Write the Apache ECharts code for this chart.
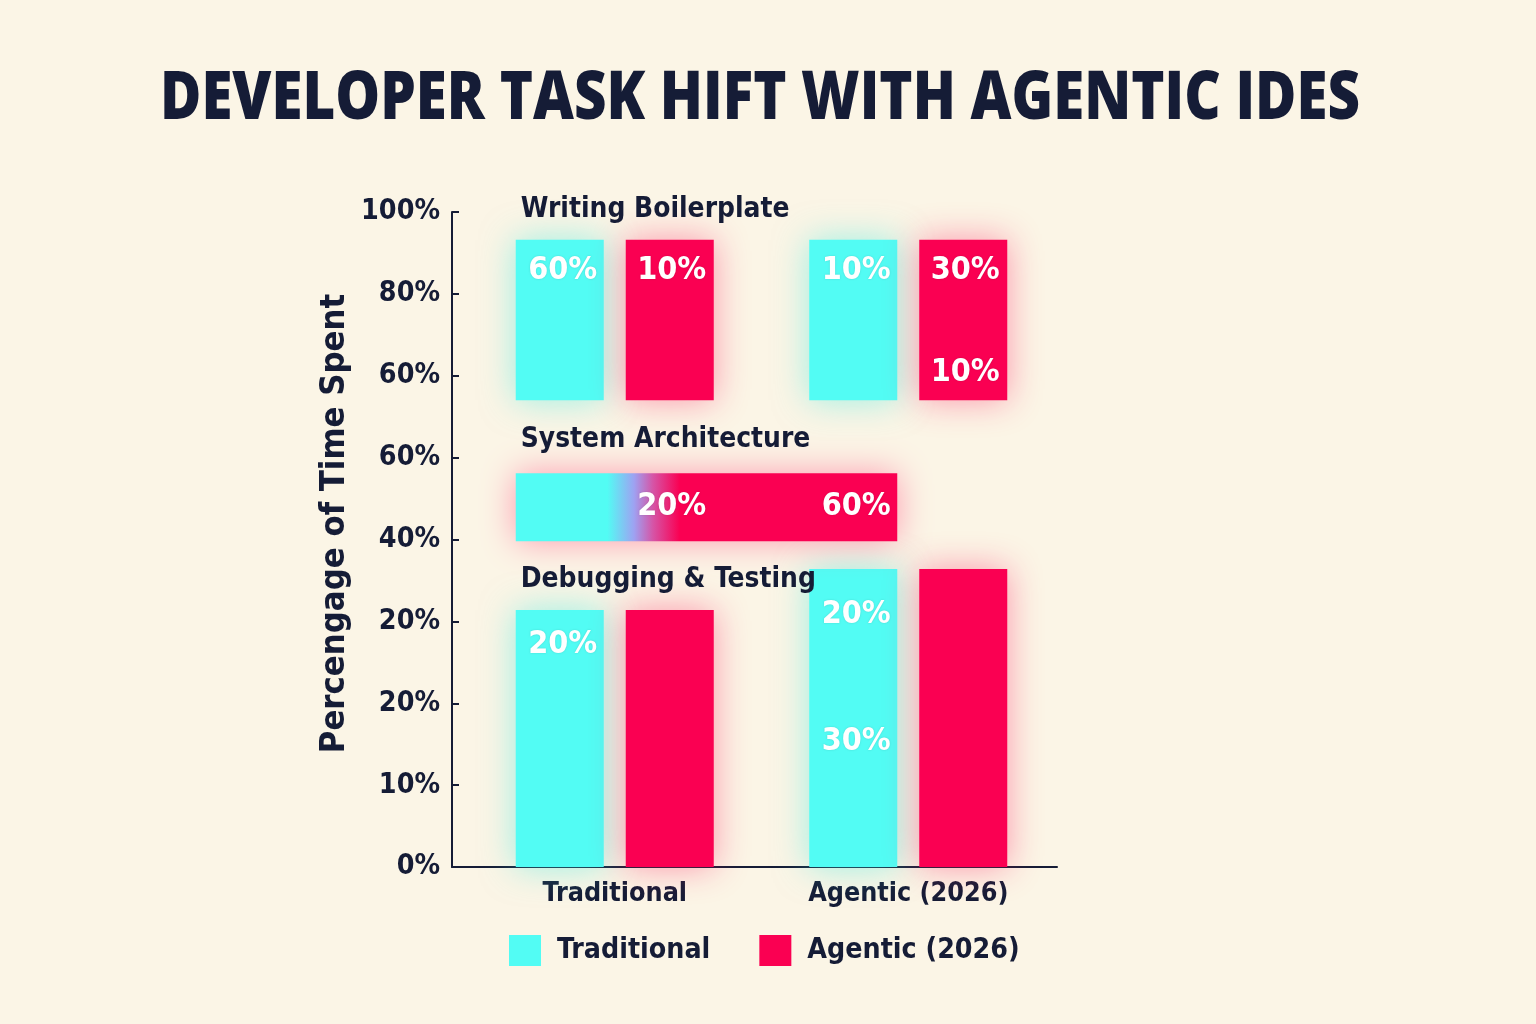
<!DOCTYPE html>
<html lang="en">
<head>
<meta charset="UTF-8">
<title>Developer Task Shift</title>
<style>
  html, body { margin: 0; padding: 0; background: #fbf5e6; }
  #main { width: 1536px; height: 1024px; }
</style>
<script src="https://cdn.jsdelivr.net/npm/echarts@6/dist/echarts.min.js"></script>
</head>
<body>
<div id="main"></div>
<script>
var categories = ['Traditional', 'Agentic (2026)'];
var yTickLabels = ['0%', '10%', '20%', '20%', '40%', '60%', '60%', '80%', '100%'];

// bar extents, in axis units (one unit per tick)
var debugTop = [3.14, 3.64];        // Debugging & Testing, from 0
var boilerBottom = [5.70, 5.70];    // Writing Boilerplate
var boilerTop = [7.66, 7.66];
var archRange = [3.98, 4.81];       // System Architecture band

var groupNames = ['Writing Boilerplate', 'System Architecture', 'Debugging & Testing'];
var groupNameY = [8.03, 5.22, 3.51];

// value labels: [category, y, text]
var tradLabels = [[0, 7.28, '60%'], [0, 2.71, '20%'], [1, 7.28, '10%'], [1, 4.40, '60%'], [1, 3.08, '20%'], [1, 1.53, '30%']];
var agenticLabels = [[0, 7.28, '10%'], [0, 4.40, '20%'], [1, 7.28, '30%'], [1, 6.04, '10%']];

var CYAN = '#52fcf4', RED = '#fa0052', NAVY = '#151c36';
var BAR_W = 88, BAR_GAP = 22;
var TITLE = 'DEVELOPER TASK HIFT WITH AGENTIC IDES';

var ctx = document.createElement('canvas').getContext('2d');

// pick a narrow face if one is installed, the picture uses condensed type
function hasFont(f) {
    var s = 'Traditional 2026% Wg';
    ctx.font = '40px monospace';
    var w0 = ctx.measureText(s).width;
    ctx.font = "40px '" + f + "', monospace";
    return Math.abs(ctx.measureText(s).width - w0) > 0.5;
}
var narrow = ['Noto Sans Condensed', 'Noto Sans SemiCondensed', 'DejaVu Sans Condensed', 'Liberation Sans Narrow']
    .filter(hasFont)[0];
var FONT = (narrow ? "'" + narrow + "', " : '') + "'Open Sans', 'Noto Sans', sans-serif";

// font size that makes a sample text about as wide as in the picture
// (a little larger, since the picture's type is narrower than ours)
function fitSize(text, weight, width) {
    ctx.font = weight + ' 100px ' + FONT;
    return Math.round(1080 * width / ctx.measureText(text).width) / 10;
}
var tickSize = fitSize('100%', 'bold', 73);
var catSize = fitSize('Traditional', '600', 134);
var legendSize = fitSize('Traditional', '600', 142);
var groupSize = fitSize('Writing Boilerplate', '600', 249);
var valueSize = fitSize('60%', 'bold', 64);
var nameSize = fitSize('Percengage of Time Spent', 'bold', 425);

ctx.font = "800 68px 'Open Sans'";
var titleScale = 1200 / ctx.measureText(TITLE).width;

var chart = echarts.init(document.getElementById('main'));

function stackBars(name, stack, color, glow) {
    var style = { color: color, shadowBlur: 34, shadowColor: glow };
    return [{
        name: name, type: 'bar', stack: stack, barWidth: BAR_W, barGap: '25%',
        itemStyle: style, data: debugTop
    }, {
        name: 'gap-' + stack, type: 'bar', stack: stack, barWidth: BAR_W, barGap: '25%',
        itemStyle: { color: 'transparent' }, silent: true,
        data: boilerBottom.map(function (v, i) { return v - debugTop[i]; })
    }, {
        name: name, type: 'bar', stack: stack, barWidth: BAR_W, barGap: '25%',
        itemStyle: style,
        data: boilerTop.map(function (v, i) { return v - boilerBottom[i]; })
    }];
}

function labelSeries(data, dx) {
    return {
        type: 'scatter', symbolSize: 1, clip: false, silent: true, z: 10,
        itemStyle: { color: 'transparent', opacity: 1 },
        data: data,
        label: {
            show: true, position: 'inside', offset: [dx, 0],
            formatter: function (p) { return p.value[2]; },
            color: '#ffffff', textBorderWidth: 0,
            textShadowColor: 'rgba(0,0,0,0.15)', textShadowBlur: 2,
            fontSize: valueSize, fontWeight: 'bold', fontFamily: FONT
        }
    };
}

var series = []
    .concat(stackBars('Traditional', 'cyan', CYAN, 'rgba(60,235,225,0.5)'))
    .concat(stackBars('Agentic (2026)', 'red', RED, 'rgba(255,30,100,0.45)'));

series.push({
    type: 'custom', z: 3,
    data: [[0, 1, archRange[0], archRange[1]]],
    encode: { x: [0, 1], y: [2, 3] },
    renderItem: function (params, api) {
        var p0 = api.coord([api.value(0), api.value(3)]);
        var p1 = api.coord([api.value(1), api.value(2)]);
        var left = p0[0] - BAR_GAP / 2 - BAR_W;
        var right = p1[0] - BAR_GAP / 2;
        return {
            type: 'rect',
            shape: { x: left, y: p0[1], width: right - left, height: p1[1] - p0[1] },
            style: {
                fill: new echarts.graphic.LinearGradient(0, 0, 1, 0, [
                    { offset: 0, color: CYAN },
                    { offset: 0.24, color: CYAN },
                    { offset: 0.31, color: '#9ea2f2' },
                    { offset: 0.36, color: '#d654a6' },
                    { offset: 0.43, color: RED },
                    { offset: 1, color: RED }
                ]),
                shadowBlur: 34,
                shadowColor: 'rgba(255,40,110,0.45)'
            }
        };
    }
});

series.push(labelSeries(tradLabels, -52));
series.push(labelSeries(agenticLabels, 57));

series.push({
    type: 'scatter', symbolSize: 1, clip: false, silent: true, z: 10,
    itemStyle: { color: 'transparent', opacity: 1 },
    data: groupNames.map(function (n, i) { return [0, groupNameY[i], n]; }),
    label: {
        show: true, position: 'inside', align: 'left', offset: [-94, 0],
        formatter: function (p) { return p.value[2]; },
        color: NAVY, textBorderWidth: 0,
        fontSize: groupSize, fontWeight: 600, fontFamily: FONT
    }
});

chart.setOption({
    animation: false,
    backgroundColor: '#fbf5e6',
    graphic: [{
        type: 'text', x: 160, y: 100, scaleX: titleScale,
        style: {
            text: TITLE, fontSize: 68, fontWeight: 800, fontFamily: "'Open Sans', sans-serif",
            fill: NAVY, align: 'left', verticalAlign: 'middle',
            textAlign: 'left', textVerticalAlign: 'middle'
        }
    }],
    legend: {
        left: 509, top: 935, padding: 0,
        itemWidth: 32, itemHeight: 31, itemGap: 49,
        data: [{ name: 'Traditional', icon: 'rect' }, { name: 'Agentic (2026)', icon: 'rect' }],
        itemStyle: { shadowBlur: 0, shadowColor: 'transparent' },
        textStyle: { color: NAVY, fontSize: legendSize, fontWeight: 600, fontFamily: FONT, padding: [0, 0, 0, 11] }
    },
    grid: [
        { left: 468, right: 481, top: 212, bottom: 157 },
        { left: 452, right: 479, top: 212, bottom: 157 }
    ],
    xAxis: [{
        type: 'category', gridIndex: 0, data: categories,
        axisLine: { show: false }, axisTick: { show: false },
        axisLabel: { color: NAVY, fontSize: catSize, fontWeight: 600, fontFamily: FONT, margin: 14 }
    }, {
        type: 'category', gridIndex: 1, data: categories,
        axisLine: { lineStyle: { color: NAVY, width: 2 } },
        axisTick: { length: 8, lineStyle: { color: NAVY, width: 2 } },
        axisLabel: { show: false }
    }],
    yAxis: [{
        type: 'value', gridIndex: 0, min: 0, max: 8, interval: 1, show: false
    }, {
        type: 'value', gridIndex: 1, min: 0, max: 8, interval: 1,
        name: 'Percengage of Time Spent', nameLocation: 'middle', nameGap: 100,
        nameTextStyle: { color: NAVY, fontSize: nameSize, fontWeight: 'bold', fontFamily: FONT, padding: [0, 0, 0, 32] },
        axisLine: { show: true, lineStyle: { color: NAVY, width: 2 } },
        axisTick: { show: true, inside: true, length: 7, lineStyle: { color: NAVY, width: 2 } },
        splitLine: { show: false },
        axisLabel: {
            color: NAVY, fontSize: tickSize, fontWeight: 'bold', fontFamily: FONT, margin: 12,
            formatter: function (v) { return yTickLabels[v]; }
        }
    }],
    series: series
});
</script>
</body>
</html>
